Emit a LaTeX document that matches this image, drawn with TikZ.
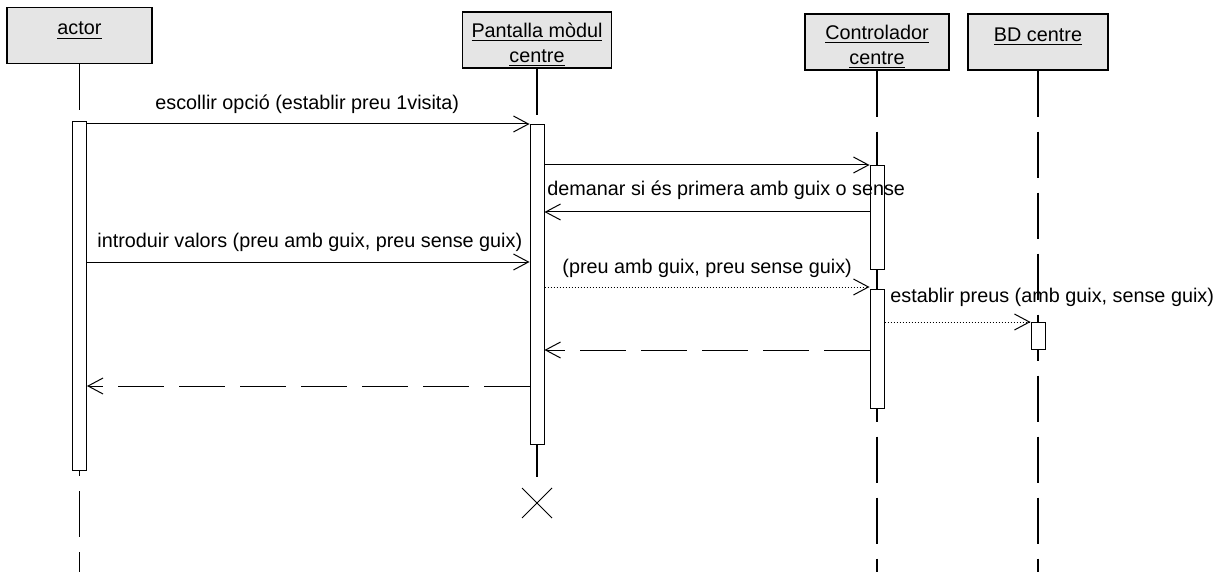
\documentclass[tikz,border=0pt]{standalone}
\usepackage{fontspec}
\setmainfont{Liberation Sans}
\usetikzlibrary{arrows.meta,shapes.misc}

\tikzset{
  hdbox/.style={draw,line width=0.7pt,fill=black!10,minimum width=#1,minimum height=28pt,align=center,inner sep=0pt},
  life/.style={line width=0.6pt,dash pattern=on 23pt off 7.5pt},
  act/.style={draw,fill=white,line width=0.5pt,minimum width=7pt,inner sep=0pt},
  msg/.style={line width=0.5pt,-{Straight Barb[length=7.5pt,width=8pt]}},
  ret/.style={msg,dash pattern=on 23pt off 7.5pt},
  async/.style={msg,densely dotted},
  lbl/.style={anchor=base west,inner sep=0pt}
}
\newcommand{\hdstrut}{\rule{0pt}{12pt}}

\begin{document}
\begin{tikzpicture}[x=0.5pt,y=-0.5pt,font=\fontsize{9.9}{12.5}\selectfont]
  \useasboundingbox (0,0) rectangle (1230,572);
  % objects
  \node[hdbox=72.5pt] (hdA) at (79.5,35.5) {\hdstrut\underline{actor}\\\phantom{x}};
  \node[hdbox=74.5pt] (hdP) at (537,40) {\hdstrut\underline{Pantalla mòdul}\\\underline{centre}};
  \node[hdbox=72pt] (hdC) at (877,42) {\hdstrut\underline{Controlador}\\\underline{centre}};
  \node[hdbox=70pt] (hdB) at (1038,42) {\hdstrut\underline{BD centre}\\\phantom{x}};
  % lifelines
  \coordinate (endA) at (79.5,572);
  \coordinate (endP) at (537,477);
  \coordinate (endC) at (877,572);
  \coordinate (endB) at (1038,572);
  \draw[life] (hdA.south) -- (endA);
  \draw[life] (hdP.south) -- (endP);
  \draw[life] (hdC.south) -- (endC);
  \draw[life] (hdB.south) -- (endB);
  % activations
  \node[act,minimum height=174pt] (actA) at (79.5,296) {};
  \node[act,minimum height=159.5pt] (actP) at (537,284.5) {};
  \node[act,minimum height=51.5pt] (actC1) at (877,217.5) {};
  \node[act,minimum height=59.5pt] (actC2) at (877,348.5) {};
  \node[act,minimum height=13.5pt] (actB) at (1038,335.5) {};
  \node[draw,cross out,minimum size=14.5pt,inner sep=0pt,line width=0.5pt] (xP) at (537,503) {};
  % messages
  \coordinate (y1) at (0,124);
  \coordinate (y2) at (0,165);
  \coordinate (y3) at (0,212);
  \coordinate (y4) at (0,262);
  \coordinate (y5) at (0,287);
  \coordinate (y6) at (0,322);
  \coordinate (y7) at (0,350);
  \coordinate (y8) at (0,386);
  \draw[msg] (actA.east |- y1) -- (actP.west |- y1);
  \draw[msg] (actP.east |- y2) -- (actC1.west |- y2);
  \draw[msg] (actC1.west |- y3) -- (actP.east |- y3);
  \draw[msg] (actA.east |- y4) -- (actP.west |- y4);
  \draw[async] (actP.east |- y5) -- (actC2.west |- y5);
  \draw[async] (actC2.east |- y6) -- (actB.west |- y6);
  \draw[ret] (actC2.west |- y7) -- (actP.east |- y7);
  \draw[ret] (actP.west |- y8) -- (actA.east |- y8);
  % labels
  \node[lbl] (l1) at (155,110) {escollir opció (establir preu 1visita)};
  \node[lbl] (l3) at (547,196) {demanar si és primera amb guix o sense};
  \node[lbl] (l4) at (97,248) {introduir valors (preu amb guix, preu sense guix)};
  \node[lbl] (l5) at (562,273) {(preu amb guix, preu sense guix)};
  \node[lbl] (l6) at (890,302) {establir preus (amb guix, sense guix)};
\end{tikzpicture}
\end{document}
